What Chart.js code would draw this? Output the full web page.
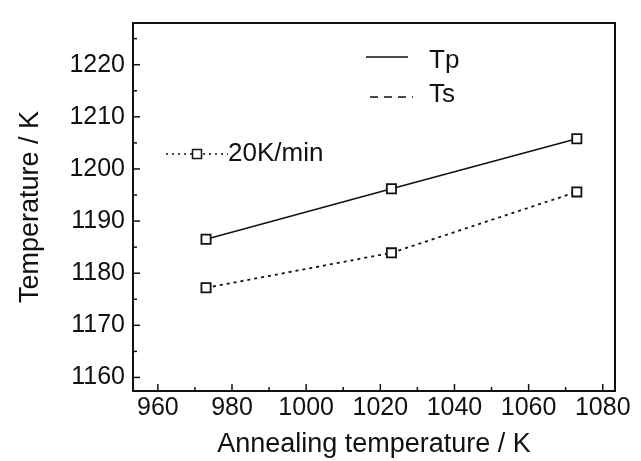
<!DOCTYPE html>
<html>
<head>
<meta charset="utf-8">
<script src="https://cdn.jsdelivr.net/npm/chart.js@4/dist/chart.umd.min.js"></script>
<style>
html,body{margin:0;padding:0;background:#fff;}
#wrap{width:641px;height:461px;position:relative;}
</style>
</head>
<body>
<div id="wrap"><canvas id="c"></canvas></div>
<script>
const annealingTemps = [973, 1023, 1073];
const tpValues = [1186.5, 1196.2, 1205.8];
const tsValues = [1177.2, 1183.9, 1195.6];
const xTickValues = [960, 980, 1000, 1020, 1040, 1060, 1080];
const yTickValues = [1160, 1170, 1180, 1190, 1200, 1210, 1220];
const xMinorValues = [970, 990, 1010, 1030, 1050, 1070];
const yMinorValues = [1165, 1175, 1185, 1195, 1205, 1215, 1225];
const seriesNames = ['Tp', 'Ts'];
const rateLabel = '20K/min';
const xTitle = 'Annealing temperature / K';
const yTitle = 'Temperature / K';

const FONT = 'Liberation Sans, Arial, sans-serif';

const framePlugin = {
  id: 'frame',
  afterDraw(chart) {
    const {ctx, chartArea: a, scales} = chart;
    ctx.save();
    ctx.strokeStyle = '#111';
    ctx.lineWidth = 2;
    ctx.strokeRect(a.left, a.top, a.right - a.left, a.bottom - a.top);
    ctx.lineWidth = 1.5;
    xTickValues.forEach(v => {
      const px = scales.x.getPixelForValue(v);
      ctx.beginPath(); ctx.moveTo(px, a.bottom); ctx.lineTo(px, a.bottom - 7); ctx.stroke();
    });
    xMinorValues.forEach(v => {
      const px = scales.x.getPixelForValue(v);
      ctx.beginPath(); ctx.moveTo(px, a.bottom); ctx.lineTo(px, a.bottom - 4); ctx.stroke();
    });
    yTickValues.forEach(v => {
      const py = scales.y.getPixelForValue(v);
      ctx.beginPath(); ctx.moveTo(a.left, py); ctx.lineTo(a.left + 7, py); ctx.stroke();
    });
    yMinorValues.forEach(v => {
      const py = scales.y.getPixelForValue(v);
      ctx.beginPath(); ctx.moveTo(a.left, py); ctx.lineTo(a.left + 4, py); ctx.stroke();
    });
    ctx.fillStyle = '#111';
    ctx.font = '26px ' + FONT;
    ctx.textBaseline = 'middle';
    ctx.textAlign = 'left';
    ctx.lineWidth = 1.5;
    ctx.setLineDash([]);
    ctx.beginPath(); ctx.moveTo(366, 57); ctx.lineTo(408, 57); ctx.stroke();
    ctx.fillText(seriesNames[0], 429, 61);
    ctx.setLineDash([8, 6]);
    ctx.beginPath(); ctx.moveTo(370, 97); ctx.lineTo(413, 97); ctx.stroke();
    ctx.fillText(seriesNames[1], 429, 95);
    ctx.setLineDash([2, 4]);
    ctx.beginPath(); ctx.moveTo(166, 154); ctx.lineTo(192, 154); ctx.stroke();
    ctx.beginPath(); ctx.moveTo(203, 154); ctx.lineTo(228, 154); ctx.stroke();
    ctx.setLineDash([]);
    ctx.fillStyle = '#fff';
    ctx.fillRect(192.5, 149.5, 9, 9);
    ctx.strokeRect(192.5, 149.5, 9, 9);
    ctx.fillStyle = '#111';
    ctx.fillText(rateLabel, 228, 154);
    ctx.restore();
  }
};

new Chart(document.getElementById('c'), {
  type: 'line',
  data: {
    datasets: [
      {
        label: seriesNames[0],
        data: annealingTemps.map((x, i) => ({x, y: tpValues[i]})),
        borderColor: '#111', borderWidth: 1.5,
        pointStyle: 'rect', pointRadius: 6.5, pointBorderWidth: 1.8,
        pointBackgroundColor: '#fff', pointBorderColor: '#111',
        tension: 0
      },
      {
        label: seriesNames[1],
        data: annealingTemps.map((x, i) => ({x, y: tsValues[i]})),
        borderColor: '#111', borderWidth: 1.8, borderDash: [3, 4],
        pointStyle: 'rect', pointRadius: 6.5, pointBorderWidth: 1.8,
        pointBackgroundColor: '#fff', pointBorderColor: '#111',
        tension: 0
      }
    ]
  },
  options: {
    responsive: true,
    maintainAspectRatio: false,
    animation: false,
    layout: {padding: {top: 11, right: 26, left: 0, bottom: 0}},
    plugins: {legend: {display: false}, tooltip: {enabled: false}},
    scales: {
      x: {
        type: 'linear', min: 953.3, max: 1083.3,
        grid: {display: false, drawTicks: false},
        border: {display: false},
        afterBuildTicks: s => { s.ticks = xTickValues.map(v => ({value: v})); },
        afterFit: s => { s.height = 70; },
        ticks: {color: '#111', padding: 2, maxRotation: 0, autoSkip: false,
                callback: v => String(v),
                font: {family: FONT, size: 25}},
        title: {display: true, text: xTitle, color: '#111',
                font: {family: FONT, size: 27}, padding: {top: 0, bottom: 0}}
      },
      y: {
        type: 'linear', min: 1157.4, max: 1228,
        grid: {display: false, drawTicks: false},
        border: {display: false},
        afterBuildTicks: s => { s.ticks = yTickValues.map(v => ({value: v})); },
        afterFit: s => { s.width = 133; },
        ticks: {color: '#111', padding: 8, autoSkip: false,
                callback: v => String(v),
                font: {family: FONT, size: 25}},
        title: {display: true, text: yTitle, color: '#111',
                font: {family: FONT, size: 27}, padding: {top: 14, bottom: 0}}
      }
    }
  },
  plugins: [framePlugin]
});
</script>
</body>
</html>
